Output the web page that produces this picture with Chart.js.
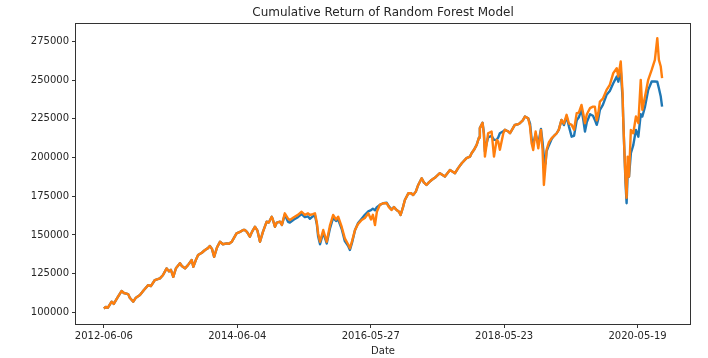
<!DOCTYPE html>
<html>
<head>
<meta charset="utf-8">
<script src="https://cdn.jsdelivr.net/npm/chart.js@4"></script>
<style>
  html, body { margin: 0; padding: 0; background: #ffffff; }
  #c { display: block; }
</style>
</head>
<body>
<canvas id="c" width="708" height="358"></canvas>
<script>
// Trading-day index (row number) of each sampled point
const days = [0,7,15,29,37,49,66,75,91,97,110,120,135,150,166,176,191,210,221,235,244,251,260,270,285,292,304,315,329,335,345,353,367,379,390,397,405,413,424,435,446,460,469,479,487,497,510,522,528,536,547,555,566,575,585,596,610,618,629,633,641,648,660,667,678,690,697,712,727,741,753,765,772,783,791,798,803,810,822,835,847,859,870,878,891,903,915,922,930,941,952,966,978,991,1001,1008,1016,1023,1034,1047,1060,1068,1078,1087,1097,1106,1112,1121,1128,1141,1151,1159,1169,1178,1191,1199,1209,1218,1228,1244,1259,1278,1297,1316,1327,1341,1359,1372,1378,1387,1397,1406,1409,1419,1424,1428,1434,1440,1453,1462,1472,1478,1484,1497,1503,1514,1522,1533,1540,1552,1559,1570,1578,1590,1597,1603,1609,1618,1628,1638,1644,1649,1655,1659,1668,1678,1687,1697,1705,1715,1724,1734,1743,1753,1762,1772,1780,1790,1797,1803,1810,1822,1833,1840,1847,1853,1859,1870,1884,1896,1909,1922,1928,1937,1944,1946,1950,1955,1959,1963,1968,1975,1984,1994,2003,2012,2018,2028,2040,2053,2065,2074,2080,2087,2092];

// Blue series (cumulative return)
const blueValues = [102500,103500,103000,106900,105500,109000,113800,112500,111800,109500,106900,109500,111200,114500,117600,117000,120900,122000,124000,128400,126500,127500,123000,128500,131700,130000,128400,130500,133800,129500,134000,137000,138500,140300,141500,142900,141000,135900,142000,145600,144000,144600,144300,145600,148000,151000,152000,153200,153200,152000,148900,152000,155300,153000,145600,152000,158600,158000,161800,160000,155300,158000,158600,156500,163000,158500,158000,160000,161500,163500,161500,162000,160500,162000,162500,157000,149000,144000,151500,144500,154000,161000,159000,160000,154000,146000,143000,140300,145000,153000,157500,160500,163000,165300,166000,167000,166000,168000,169400,170500,170800,168500,166500,168000,166100,165000,162900,168000,172600,176900,177000,175800,178000,182300,186600,184000,182300,184000,185500,187500,189900,187700,192000,189900,193000,196300,199600,200600,202800,205000,208200,213000,219000,222500,216000,204000,209000,213000,214000,211400,211400,213000,215700,217000,217900,217000,215700,219000,221100,221500,222200,224000,226500,225400,222000,212000,209000,215000,209000,218500,210000,200600,196000,204000,208000,212000,214000,215700,218000,224300,221000,226500,220000,213500,214000,224000,226000,231000,224000,216800,223000,228000,227000,224300,221100,225000,230800,234000,240500,243000,248000,252300,249000,256600,238000,226500,207100,183400,170500,190000,187700,202800,208000,217900,213500,228000,226500,232900,243700,249100,249100,249000,244800,239400,232900];

// Orange series (cumulative return)
const orangeValues = [102500,103500,103000,106900,105500,109000,113800,112500,111800,109500,106900,109500,111200,114500,117600,117000,120900,122000,124000,128400,126500,127500,123000,128500,131700,130000,128400,130500,133800,129500,134000,137000,138500,140300,141500,142900,141000,135900,142000,145600,144000,144600,144300,145600,148000,151000,152000,153200,153200,152000,148900,152000,155300,153000,145600,152000,158600,158000,161800,160000,155300,158000,158600,156500,164000,160500,159700,161500,163000,165000,163000,164000,162900,163500,164000,158000,151000,145600,153200,145600,156000,162900,160000,161800,155300,147800,144000,141400,146000,153200,157000,159700,161000,164000,160000,163000,156400,165000,169400,170500,170500,168000,166100,168000,166100,165000,162900,168000,172600,176900,177000,175800,178000,182300,186600,184000,182300,184000,185500,187500,189900,187700,192000,189900,193000,196300,199600,200600,202800,205000,208200,213000,219000,222500,215000,200600,208000,215700,216800,200600,211400,210300,205000,215700,217900,217000,215700,219000,221100,221500,222200,224000,226500,225400,220000,209200,204900,216800,206000,217900,205000,182300,195000,205000,210000,212500,214000,215700,218000,224300,222000,227600,222000,221100,218000,228700,229000,234000,228000,222200,228000,231900,232900,232900,224000,228700,236200,238000,243700,247000,254500,257700,252300,262000,241600,226500,207100,186000,174000,200600,187700,217900,215700,226500,222200,250200,230800,239400,250200,256600,263100,277100,263100,258800,251300];

const xTickPositions = [0, 500, 1000, 1500, 2000];
const xTickLabels = ['2012-06-06', '2014-06-04', '2016-05-27', '2018-05-23', '2020-05-19'];
const yTickValues = [100000, 125000, 150000, 175000, 200000, 225000, 250000, 275000];

const titleText = 'Cumulative Return of Random Forest Model';
const xTitle = 'Date';

const toPoints = (vals) => vals.map((v, i) => ({ x: days[i], y: v }));

const FONT = 'DejaVu Sans';
const TEXT = '#262626';

const frame = {
  id: 'frame',
  afterDraw(chart) {
    const { ctx, chartArea: a } = chart;
    ctx.save();
    ctx.strokeStyle = '#333';
    ctx.lineWidth = 1;
    ctx.strokeRect(Math.round(a.left) - 0.5, Math.round(a.top) - 0.5,
      Math.round(a.right) - Math.round(a.left) + 1, Math.round(a.bottom) - Math.round(a.top) + 1);
    ctx.restore();
  }
};

new Chart(document.getElementById('c'), {
  type: 'line',
  data: {
    datasets: [
      { label: 'blue', data: toPoints(blueValues), borderColor: '#1f77b4', borderWidth: 2.4, order: 2 },
      { label: 'orange', data: toPoints(orangeValues), borderColor: '#ff7f0e', borderWidth: 2.4, order: 1 }
    ]
  },
  options: {
    responsive: false,
    animation: false,
    devicePixelRatio: 1,
    layout: { padding: { left: 0, right: 18, top: 0, bottom: 0 } },
    elements: { point: { radius: 0 }, line: { tension: 0, fill: false, borderJoinStyle: 'round' } },
    plugins: {
      legend: { display: false },
      tooltip: { enabled: false },
      title: {
        display: true, text: titleText, fullSize: false, color: TEXT,
        font: { family: FONT, size: 12, weight: 'normal' },
        padding: { top: 6, bottom: 4 }
      }
    },
    scales: {
      x: {
        type: 'linear', min: -104.6, max: 2196.6,
        afterBuildTicks: (s) => { s.ticks = xTickPositions.map(v => ({ value: v })); },
        afterFit: (s) => { s.height = 34; },
        ticks: {
          callback: (v) => { const i = xTickPositions.indexOf(v); return i >= 0 ? xTickLabels[i] : ''; },
          font: { family: FONT, size: 10 }, color: TEXT, maxRotation: 0, autoSkip: false, padding: 2
        },
        grid: { drawOnChartArea: false, tickLength: 4, color: '#333', tickColor: '#333' },
        border: { display: false },
        title: { display: true, text: xTitle, color: TEXT, font: { family: FONT, size: 10 }, padding: { top: 0, bottom: 1 } }
      },
      y: {
        type: 'linear', min: 92500, max: 286000,
        afterBuildTicks: (s) => { s.ticks = yTickValues.map(v => ({ value: v })); },
        afterFit: (s) => { s.width = 76; },
        ticks: {
          callback: (v) => String(v),
          font: { family: FONT, size: 10 }, color: TEXT, padding: 3
        },
        grid: { drawOnChartArea: false, tickLength: 4, color: '#333', tickColor: '#333' },
        border: { display: false }
      }
    }
  },
  plugins: [frame]
});
</script>
</body>
</html>
